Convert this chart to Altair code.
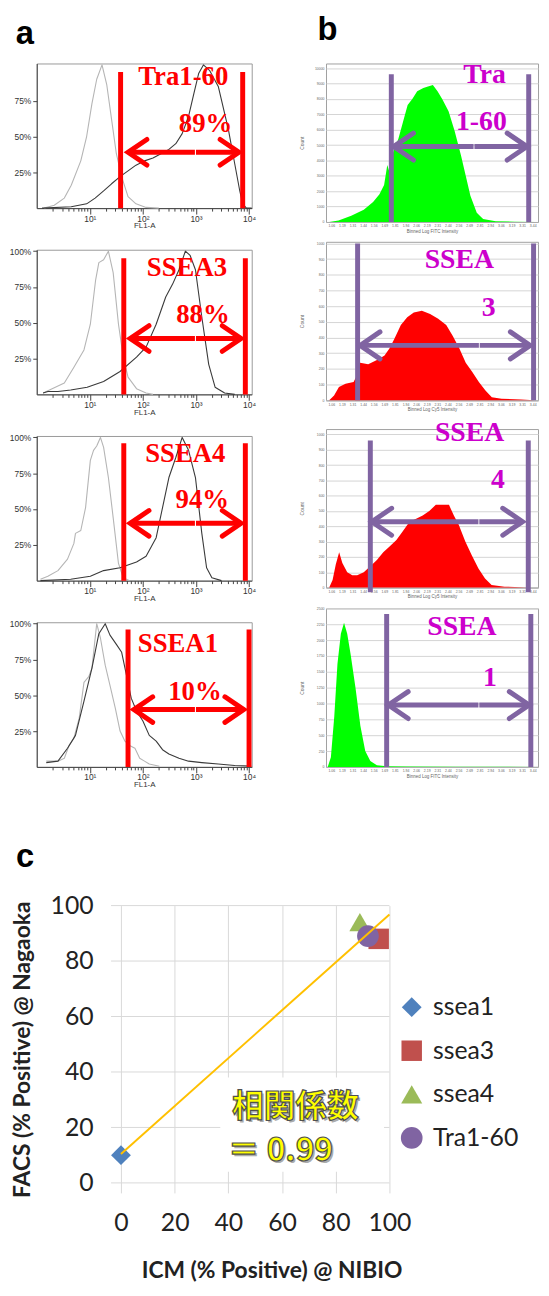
import numpy as np
import pandas as pd
import altair as alt

SANS = "Liberation Sans"
SERIF = "Liberation Serif"
XL = "Lato"
CJK = "Noto Sans CJK JP"
RED = "#FF0000"
PURPLE = "#8064A2"
MAGENTA = "#CC00CC"

# ---------------- panel a : FlowJo overlays (x = log10 FL1-A, y = % of max)
a_markers = ["Tra1-60", "SSEA3", "SSEA4", "SSEA1"]
a_percents = ["89%", "88%", "94%", "10%"]

a1_ctrl_x = [0.14, 0.33, 0.52, 0.65, 0.83, 0.94, 1.04, 1.13, 1.23, 1.32, 1.41, 1.50, 1.60, 1.72, 1.87, 2.06, 2.30]
a1_ctrl_y = [0, 2, 7, 16, 33, 50, 73, 90, 100, 86, 62, 38, 22, 8, 3, 0.5, 0]
a1_samp_x = [0.10, 0.65, 0.94, 1.10, 1.26, 1.41, 1.57, 1.72, 1.87, 2.03, 2.19, 2.34, 2.49, 2.62, 2.74, 2.86, 2.96, 3.05, 3.14, 3.26, 3.42, 3.61, 3.73, 3.82, 3.88, 3.95, 4.05]
a1_samp_y = [0, 1, 3, 7, 12, 17, 22, 26, 30, 33, 35, 38, 41, 45, 52, 64, 80, 94, 100, 96, 85, 55, 31, 13, 3, 0, 0]

a2_ctrl_x = [0.12, 0.52, 0.70, 0.89, 1.01, 1.11, 1.17, 1.26, 1.35, 1.44, 1.54, 1.63, 1.72, 1.88, 2.06, 2.19]
a2_ctrl_y = [1, 8, 19, 31, 49, 80, 92, 94, 100, 85, 49, 26, 12, 4, 1, 0]
a2_samp_x = [0.12, 0.21, 0.40, 0.64, 0.95, 1.26, 1.57, 1.88, 2.06, 2.25, 2.43, 2.56, 2.68, 2.80, 2.89, 2.99, 3.11, 3.24, 3.36, 3.54, 3.73]
a2_samp_y = [1, 2, 2, 3, 5, 9, 16, 26, 33, 49, 68, 77, 87, 100, 97, 87, 54, 21, 5, 1, 0]

a3_ctrl_x = [0.07, 0.21, 0.40, 0.58, 0.70, 0.73, 0.83, 0.92, 1.01, 1.07, 1.13, 1.20, 1.26, 1.35, 1.44, 1.54, 1.63, 1.75]
a3_ctrl_y = [1, 3, 7, 15, 26, 33, 35, 51, 84, 91, 94, 100, 93, 72, 44, 12, 2, 0]
a3_samp_x = [0.07, 0.64, 1.01, 1.26, 1.57, 1.88, 2.06, 2.25, 2.37, 2.49, 2.62, 2.74, 2.86, 2.99, 3.11, 3.20, 3.30, 3.48]
a3_samp_y = [0, 1, 3, 7, 9, 13, 17, 30, 51, 72, 86, 100, 91, 72, 33, 9, 2, 0]

a4_ctrl_x = [0.18, 0.40, 0.52, 0.61, 0.70, 0.80, 0.89, 0.98, 1.04, 1.13, 1.20, 1.29, 1.38, 1.48, 1.57, 1.66, 1.75, 1.85, 1.94, 2.03, 2.12, 2.31]
a4_ctrl_y = [4, 4, 6, 15, 20, 34, 59, 63, 69, 100, 90, 71, 57, 41, 25, 18, 15, 13, 6, 4, 2, 0.5]
a4_samp_x = [0.18, 0.40, 0.58, 0.73, 0.89, 1.04, 1.17, 1.29, 1.38, 1.51, 1.60, 1.69, 1.78, 1.88, 2.00, 2.12, 2.25, 2.37, 2.49, 2.68, 2.86, 3.11, 3.42, 3.73, 4.04]
a4_samp_y = [3, 4, 13, 22, 46, 69, 93, 100, 92, 85, 80, 64, 48, 39, 32, 22, 18, 12, 9, 6, 4, 3, 2, 1, 0.5]

a_gate_lo = [1.58, 1.64, 1.64, 1.72]
a_gate_hi = [3.88, 3.93, 3.93, 4.00]
a_gate_top = [95, 95, 96, 96]
a_arrow_lo = [1.72, 1.76, 1.76, 1.83]
a_arrow_hi = [3.81, 3.85, 3.85, 3.90]
a_arrow_mid = [2.98, 2.98, 2.98, 2.98]
a_arrow_y = [39, 39, 40, 40]
a_name_x = [2.76, 2.83, 2.80, 2.66]
a_name_y = [86, 83, 83, 80]
a_pct_x = [3.18, 3.13, 3.12, 2.98]
a_pct_y = [53, 50, 51, 47]
a_yticks = [[25, 50, 75], [25, 50, 75, 100], [25, 50, 75, 100], [25, 50, 75, 100]]

# ---------------- panel b : binned intensity histograms (x = bin position 0-100, y = grid units)
b1_x = [1.5, 5.9, 11.9, 17.8, 22.2, 25.2, 27.4, 28.9, 30.0, 31.1, 34.1, 36.3, 38.5, 40.7, 43.0, 45.9, 48.1, 50.4, 52.6, 54.8, 57.8, 60.7, 63.7, 65.9, 68.1, 71.1, 74.1, 80.0, 88.9, 99.3]
b1_y = [0, 0.1, 0.4, 0.8, 1.3, 1.8, 2.4, 3.7, 3.2, 4.3, 5.4, 6.5, 7.6, 8.0, 8.5, 8.7, 8.8, 8.9, 8.5, 8.0, 7.2, 5.9, 4.3, 3.0, 1.7, 0.6, 0.2, 0.05, 0.02, 0]
b2_x = [1.5, 3.8, 6.1, 9.2, 13.0, 14.6, 14.9, 16.1, 19.9, 24.5, 27.6, 29.9, 32.2, 35.3, 38.3, 41.4, 45.2, 49.1, 52.9, 56.7, 59.8, 62.9, 65.9, 69.0, 72.1, 75.2, 78.2, 82.8, 92.0, 98.2]
b2_y = [0, 0.3, 0.85, 1.06, 1.16, 1.6, 2.2, 2.4, 2.3, 2.6, 2.85, 3.3, 3.9, 4.8, 5.3, 5.6, 5.7, 5.5, 5.2, 4.8, 4.1, 3.3, 2.4, 1.8, 1.16, 0.63, 0.2, 0.1, 0.05, 0]
b3_x = [1.5, 3.1, 4.6, 6.2, 7.7, 10.0, 12.4, 14.7, 17.8, 20.9, 24.0, 27.0, 30.1, 33.2, 36.3, 39.4, 42.5, 45.6, 48.7, 51.8, 54.9, 58.0, 60.3, 62.6, 65.7, 68.8, 71.9, 75.0, 78.1, 84.2, 92.0, 95.1]
b3_y = [0, 0.5, 1.5, 2.3, 1.6, 1.0, 0.8, 0.8, 1.0, 1.4, 1.8, 2.3, 2.7, 3.1, 3.7, 4.3, 4.5, 4.7, 5.0, 5.4, 5.4, 5.4, 4.7, 4.1, 3.0, 2.1, 1.25, 0.6, 0.17, 0.06, 0.02, 0]
b4_x = [0.8, 2.3, 3.9, 5.4, 7.0, 8.5, 10.0, 11.6, 13.9, 16.2, 18.5, 20.9, 24.0, 28.6, 37.9, 61.1, 99.0]
b4_y = [0, 0.6, 3.2, 6.5, 8.4, 9.1, 8.4, 7.1, 5.0, 2.6, 1.0, 0.37, 0.1, 0.04, 0.02, 0.01, 0]

b_fill = ["#00FF00", "#FF0000", "#FF0000", "#00FF00"]
b_ymax = [10.3, 10.1, 10.35, 10.0]
b_label_top = ["Tra", "SSEA", "SSEA", "SSEA"]
b_label_bot = ["1-60", "3", "4", "1"]
b_top_x = [74.8, 62.9, 67.7, 64.1]
b_top_y = [9.0, 8.4, 9.6, 8.3]
b_bot_x = [73.3, 76.7, 81.1, 77.3]
b_bot_y = [5.95, 5.4, 6.5, 5.1]
b_gate_lo = [30.8, 14.9, 20.9, 28.6]
b_gate_hi = [95.6, 97.9, 95.4, 96.6]
b_gate_top = [9.6, 10.0, 9.6, 9.65]
b_gate_bottom = [0, 0, -0.3, 0]
b_arrow_lo = [31.9, 16.1, 21.6, 29.4]
b_arrow_hi = [94.8, 96.3, 92.7, 95.8]
b_arrow_mid = [69.6, 72.1, 71.9, 71.9]
b_arrow_y = [4.9, 3.5, 4.3, 3.9]
b_count_step = [1000, 100, 100, 250]
b_xtitle = ["Binned Log FITC Intensity", "Binned Log Cy5 Intensity",
            "Binned Log Cy5 Intensity", "Binned Log FITC Intensity"]

# ---------------- panel c : correlation scatter
c_series = ["ssea1", "ssea3", "ssea4", "Tra1-60"]
c_icm = [0, 96, 89, 92]
c_facs = [10, 88, 94, 89]
c_colors = ["#4F81BD", "#C0504D", "#9BBB59", "#8064A2"]
c_shapes = ["diamond", "square", "triangle-up", "circle"]
c_sizes = [400, 480, 420, 400]
c_ticks = [0, 20, 40, 60, 80, 100]
c_grid_from = -3.7
c_grid_to = 100
c_note_text = ["相関係数", "＝ 0.99"]
c_note_x = [65, 59.4]
c_note_y = [27.5, 11.4]
c_box_x = [37, 98]
c_box_y = [4, 38]

LEFT_HEAD = "M1,-0.68L0,0L1,0.68"
RIGHT_HEAD = "M-1,-0.68L0,0L-1,0.68"


def a_panel(i, cx, cy, sx, sy):
    xs = alt.Scale(domain=[0, 4.05], nice=False, zero=False)
    ys = alt.Scale(domain=[0, 101], nice=False, zero=False)
    major = [1.0, 2.0, 3.0, 4.0]
    minor = [float(np.log10(m * 10 ** k)) for k in range(0, 4) for m in range(2, 10)]
    is_major = "abs(datum.value - round(datum.value)) < 0.001"
    xaxis = alt.Axis(
        values=sorted(major + minor), grid=False, domainColor="#444", tickColor="#444",
        tickSize={"condition": {"test": is_major, "value": 6}, "value": 3},
        labelExpr=is_major + " ? ('10' + (datum.value == 1 ? '¹' : datum.value == 2 ? '²' : datum.value == 3 ? '³' : '⁴')) : ''",
        labelFont=SANS, labelFontSize=8.5, labelColor="#333", labelPadding=0,
        title="FL1-A", titleFont=SANS, titleFontSize=8, titleFontWeight="normal", titleColor="#333",
        titlePadding=1, minExtent=13, maxExtent=13,
    )
    yaxis = alt.Axis(
        values=a_yticks[i], grid=False, domainColor="#444", tickColor="#444", tickSize=4,
        labelExpr="datum.value + '%'", labelFont=SANS, labelFontSize=8.5, labelColor="#333",
        labelPadding=2, title=None, minExtent=25, maxExtent=25,
    )
    X = lambda f: alt.X(f, scale=xs, axis=xaxis, title="FL1-A")
    Y = lambda f: alt.Y(f, scale=ys, axis=yaxis, title=None)
    curves = pd.DataFrame({
        "logI": list(cx) + list(sx),
        "pct": list(cy) + list(sy),
        "trace": ["control"] * len(cx) + ["sample"] * len(sx),
    })
    lines = alt.Chart(curves).mark_line(strokeWidth=1.1, strokeJoin="round").encode(
        x=X("logI:Q"), y=Y("pct:Q"),
        color=alt.Color("trace:N", scale=alt.Scale(domain=["control", "sample"], range=["#b5b5b5", "#3a3a3a"]), legend=None),
    )
    gates = alt.Chart(pd.DataFrame({"g": [a_gate_lo[i], a_gate_hi[i]], "y0": [0, 0], "y1": [a_gate_top[i]] * 2})).mark_rule(
        color=RED, strokeWidth=5).encode(x=X("g:Q"), y=Y("y0:Q"), y2="y1:Q")
    shaft = alt.Chart(pd.DataFrame({"s0": [a_arrow_lo[i], a_arrow_mid[i] + 0.02], "s1": [a_arrow_mid[i], a_arrow_hi[i]],
                                    "ay": [a_arrow_y[i]] * 2})).mark_rule(color=RED, strokeWidth=5).encode(
        x=X("s0:Q"), x2="s1:Q", y=Y("ay:Q"))
    heads_df = pd.DataFrame({"hx": [a_arrow_lo[i], a_arrow_hi[i]], "hy": [a_arrow_y[i]] * 2, "side": ["L", "R"]})
    lhead = alt.Chart(heads_df).transform_filter("datum.side == 'L'").mark_point(
        shape=LEFT_HEAD, filled=False, size=1444, strokeWidth=5, color=RED, opacity=1, strokeCap="round").encode(
        x=X("hx:Q"), y=Y("hy:Q"))
    rhead = alt.Chart(heads_df).transform_filter("datum.side == 'R'").mark_point(
        shape=RIGHT_HEAD, filled=False, size=1444, strokeWidth=5, color=RED, opacity=1, strokeCap="round").encode(
        x=X("hx:Q"), y=Y("hy:Q"))
    labels = alt.Chart(pd.DataFrame({"tx": [a_name_x[i], a_pct_x[i]], "ty": [a_name_y[i], a_pct_y[i]],
                                     "t": [a_markers[i], a_percents[i]]})).mark_text(
        font=SERIF, fontWeight="bold", fontSize=27, color=RED, align="center", baseline="alphabetic").encode(
        x=X("tx:Q"), y=Y("ty:Q"), text="t:N")
    return alt.layer(lines, gates, shaft, lhead, rhead, labels).properties(
        width=217, height=146, view=alt.ViewBackground(stroke="#9a9a9a", strokeWidth=1))


def b_panel(i, hx, hy):
    xs = alt.Scale(domain=[0, 100], nice=False, zero=False)
    ys = alt.Scale(domain=[0, b_ymax[i]], nice=False, zero=False)
    xaxis = alt.Axis(
        values=[2.5 + 5 * k for k in range(20)], grid=False, domainColor="#aaa", ticks=False,
        labelExpr="format(1 + datum.value / 40, '.2f')", labelFont=SANS, labelFontSize=3.5,
        labelColor="#666", labelPadding=2, labelAngle=0,
        title=b_xtitle[i], titleFont=SANS, titleFontSize=4.5, titleFontWeight="normal", titleColor="#666",
        titlePadding=1,
    )
    yaxis = alt.Axis(
        values=list(range(0, 11)), grid=True, gridColor="#d4d4d4", gridWidth=1, domain=False, ticks=False,
        labelExpr="format(datum.value * %d, 'd')" % b_count_step[i], labelFont=SANS, labelFontSize=3.5,
        labelColor="#666", labelPadding=2, title="Count", titleFont=SANS, titleFontSize=5,
        titleFontWeight="normal", titleColor="#666", titlePadding=4, minExtent=18, maxExtent=18,
    )
    X = lambda f: alt.X(f, scale=xs, axis=xaxis, title=b_xtitle[i])
    Y = lambda f: alt.Y(f, scale=ys, axis=yaxis, title="Count")
    hist = alt.Chart(pd.DataFrame({"bin": hx, "cnt": hy})).mark_area(color=b_fill[i], opacity=1).encode(
        x=X("bin:Q"), y=Y("cnt:Q"))
    gates = alt.Chart(pd.DataFrame({"g": [b_gate_lo[i], b_gate_hi[i]], "y0": [b_gate_bottom[i]] * 2,
                                    "y1": [b_gate_top[i]] * 2})).mark_rule(
        color=PURPLE, strokeWidth=5).encode(x=X("g:Q"), y=Y("y0:Q"), y2="y1:Q")
    shaft = alt.Chart(pd.DataFrame({"s0": [b_arrow_lo[i], b_arrow_mid[i] + 0.4], "s1": [b_arrow_mid[i], b_arrow_hi[i]],
                                    "ay": [b_arrow_y[i]] * 2})).mark_rule(color=PURPLE, strokeWidth=5).encode(
        x=X("s0:Q"), x2="s1:Q", y=Y("ay:Q"))
    heads_df = pd.DataFrame({"hx": [b_arrow_lo[i], b_arrow_hi[i]], "hy": [b_arrow_y[i]] * 2, "side": ["L", "R"]})
    lhead = alt.Chart(heads_df).transform_filter("datum.side == 'L'").mark_point(
        shape=LEFT_HEAD, filled=False, size=1600, strokeWidth=5, color=PURPLE, opacity=1, strokeCap="round").encode(
        x=X("hx:Q"), y=Y("hy:Q"))
    rhead = alt.Chart(heads_df).transform_filter("datum.side == 'R'").mark_point(
        shape=RIGHT_HEAD, filled=False, size=1600, strokeWidth=5, color=PURPLE, opacity=1, strokeCap="round").encode(
        x=X("hx:Q"), y=Y("hy:Q"))
    labels = alt.Chart(pd.DataFrame({"tx": [b_top_x[i], b_bot_x[i]], "ty": [b_top_y[i], b_bot_y[i]],
                                     "t": [b_label_top[i], b_label_bot[i]]})).mark_text(
        font=SERIF, fontWeight="bold", fontSize=28, color=MAGENTA, align="center", baseline="alphabetic").encode(
        x=X("tx:Q"), y=Y("ty:Q"), text="t:N")
    return alt.layer(hist, gates, shaft, lhead, rhead, labels).properties(
        width=214, height=160, view=alt.ViewBackground(stroke="#a0a0a0", strokeWidth=1))


def panel_title(t, dx, offset):
    return alt.Title(t, anchor="start", font=SANS, fontSize=33, fontWeight="bold", color="#000",
                     dx=dx, offset=offset)


a_data = [(a1_ctrl_x, a1_ctrl_y, a1_samp_x, a1_samp_y), (a2_ctrl_x, a2_ctrl_y, a2_samp_x, a2_samp_y),
          (a3_ctrl_x, a3_ctrl_y, a3_samp_x, a3_samp_y), (a4_ctrl_x, a4_ctrl_y, a4_samp_x, a4_samp_y)]
b_data = [(b1_x, b1_y), (b2_x, b2_y), (b3_x, b3_y), (b4_x, b4_y)]

col_a = alt.vconcat(*[a_panel(i, *a_data[i]) for i in range(4)], spacing=15,
                    title=panel_title("a", 7, 12))
col_b = alt.vconcat(*[b_panel(i, *b_data[i]) for i in range(4)], spacing=6,
                    title=panel_title("b", 19, 14))
top = alt.hconcat(col_a, col_b, spacing=42)

# ---- panel c (its view starts under the panel-a plots; the data area begins 75 px further right)
C_PX = (100 - c_grid_from) / 281.0          # data units per pixel in the plotting area
c_left = c_grid_from - 75 * C_PX
cdf = pd.DataFrame({"series": c_series, "icm": c_icm, "facs": c_facs})
cx = alt.Scale(domain=[c_left, 100], nice=False, zero=False)
cy = alt.Scale(domain=[-3.6, 100], nice=False, zero=False)
c_xaxis = alt.Axis(values=c_ticks, grid=True, gridColor="#d9d9d9", gridWidth=1, domain=False,
                   ticks=False, labelFont=XL, labelFontSize=25, labelColor="#222", labelPadding=18,
                   labelOverlap=False, labelFlush=False, title="ICM (% Positive) @ NIBIO", titleFont=XL,
                   titleFontSize=23, titleFontWeight="bold", titleColor="#222", titleX=237, titleY=67,
                   titleAlign="center", titleBaseline="top")
c_yaxis = alt.Axis(values=c_ticks, grid=False, domain=False, offset=-75,
                   ticks=False, labelFont=XL, labelFontSize=25, labelColor="#222", labelPadding=18,
                   labelOverlap=False, labelFlush=False, title="FACS (% Positive) @ Nagaoka", titleFont=XL,
                   titleFontSize=23, titleFontWeight="bold", titleColor="#222", titlePadding=16,
                   minExtent=61, maxExtent=61)
CX = lambda f: alt.X(f, scale=cx, axis=c_xaxis, title="ICM (% Positive) @ NIBIO")
CY = lambda f: alt.Y(f, scale=cy, axis=c_yaxis, title="FACS (% Positive) @ Nagaoka")
leg = alt.Legend(orient="none", legendX=366, legendY=90, title=None, labelFont=XL, labelFontSize=25,
                 labelColor="#222", symbolSize=280, symbolStrokeWidth=0, rowPadding=18, labelOffset=9,
                 padding=0)

hgrid = alt.Chart(pd.DataFrame({"gy": c_ticks, "g0": [c_grid_from] * 6, "g1": [c_grid_to] * 6})).mark_rule(
    color="#d9d9d9", strokeWidth=1).encode(x=CX("g0:Q"), x2="g1:Q", y=CY("gy:Q"))
box = alt.Chart(pd.DataFrame({"x0": [c_box_x[0]], "x1": [c_box_x[1]], "y0": [c_box_y[0]], "y1": [c_box_y[1]]})).mark_rect(
    color="white").encode(x=CX("x0:Q"), x2="x1:Q", y=CY("y0:Q"), y2="y1:Q")
trend = alt.Chart(cdf).transform_regression("icm", "facs", extent=[0, 100]).mark_line(
    color="#FFC000", strokeWidth=2).encode(x=CX("icm:Q"), y=CY("facs:Q"))
pts = alt.Chart(cdf).mark_point(filled=True, opacity=1).encode(
    x=CX("icm:Q"), y=CY("facs:Q"),
    color=alt.Color("series:N", scale=alt.Scale(domain=c_series, range=c_colors), legend=leg),
    shape=alt.Shape("series:N", scale=alt.Scale(domain=c_series, range=c_shapes), legend=leg),
    size=alt.Size("series:N", scale=alt.Scale(domain=c_series, range=c_sizes), legend=None),
)
note_df = pd.DataFrame({"nx": c_note_x, "ny": c_note_y, "t": c_note_text})
note_shadow = alt.Chart(note_df).mark_text(font=CJK, fontWeight="bold", fontSize=32, color="#8a8a8a", opacity=0.7,
                                           dx=2, dy=2, align="center", baseline="middle").encode(
    x=CX("nx:Q"), y=CY("ny:Q"), text="t:N")
note = alt.Chart(note_df).mark_text(font=CJK, fontWeight="bold", fontSize=32, color="#FFFF00", stroke="#505050",
                                    strokeWidth=1.2, align="center", baseline="middle").encode(
    x=CX("nx:Q"), y=CY("ny:Q"), text="t:N")

panel_c = alt.layer(hgrid, box, pts, trend, note_shadow, note).properties(
    width=356, height=290, view=alt.ViewBackground(strokeWidth=0),
    title=panel_title("c", 4, 20))

chart = alt.vconcat(top, panel_c, spacing=52).resolve_scale(
    color="independent", shape="independent", size="independent").properties(padding=0).configure(background="white")

chart.save("out.html", embed_options={"renderer": "svg", "actions": False})
